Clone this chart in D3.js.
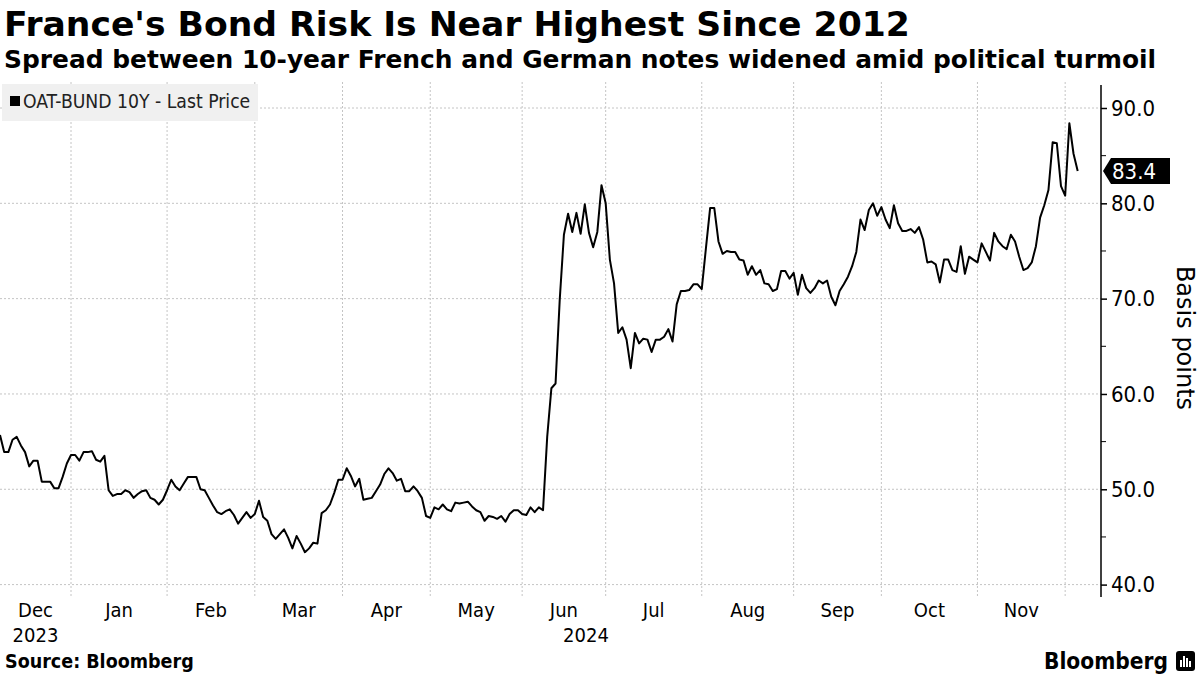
<!DOCTYPE html>
<html><head><meta charset="utf-8">
<script src="https://cdn.jsdelivr.net/npm/d3@7"></script>
<style>
body{margin:0;background:#fff;}
svg{display:block;}
</style></head><body>
<svg id="chart" width="1200" height="675"></svg>
<script>
// ---------------- data ----------------
const titleText = "France's Bond Risk Is Near Highest Since 2012";
const subtitleText = "Spread between 10-year French and German notes widened amid political turmoil";
const legendLabel = "OAT-BUND 10Y - Last Price";
const yAxisTitle = "Basis points";
const sourceText = "Source: Bloomberg";
const logoText = "Bloomberg";

// trading days: weekdays from start to end, minus market holidays
const startDate = "2023-12-07";
const endDate = "2024-12-05";
const holidays = ["2024-04-01", "2024-05-01"];

const dec2023 = [55.7, 53.9, 53.9, 55.2, 55.5, 54.6, 53.9, 52.4, 53.0, 53.0, 50.8, 50.8, 50.8, 50.1, 50.1, 51.3, 52.7];
const jan2024 = [53.6, 53.6, 53.0, 53.9, 53.9, 54.0, 53.1, 52.9, 53.5, 49.9, 49.3, 49.5, 49.5, 49.9, 49.7, 49.1, 49.5, 49.8, 49.9, 49.1, 48.9, 48.4, 48.9];
const feb2024 = [49.9, 51.0, 50.3, 49.9, 50.6, 51.3, 51.3, 51.3, 50.0, 49.9, 49.1, 48.3, 47.6, 47.4, 47.7, 47.9, 47.3, 46.4, 47.0, 47.6, 47.0];
const mar2024 = [47.4, 48.8, 47.1, 46.7, 45.3, 44.8, 45.3, 45.8, 44.9, 43.8, 45.1, 44.3, 43.4, 43.8, 44.4, 44.3, 47.5, 47.8, 48.4, 49.6, 51.0];
const apr2024 = [51.0, 52.2, 51.4, 50.3, 51.1, 48.9, 49.0, 49.1, 49.8, 50.5, 51.6, 52.2, 51.7, 50.9, 51.1, 49.8, 49.8, 50.3, 49.8, 49.1, 47.2];
const may2024 = [47.0, 48.1, 47.9, 48.4, 47.9, 47.7, 48.6, 48.5, 48.6, 48.7, 48.2, 47.8, 47.6, 46.7, 47.2, 47.1, 46.9, 47.2, 46.6, 47.4, 47.8, 47.8];
const jun2024 = [47.4, 47.3, 48.1, 47.6, 48.1, 47.8, 55.5, 60.6, 61.1, 69.9, 76.7, 78.9, 77.0, 79.0, 76.8, 79.9, 76.9, 75.4, 77.0, 81.9];
const jul2024 = [80.0, 74.1, 71.6, 66.4, 67.0, 65.7, 62.7, 66.4, 65.3, 65.8, 65.7, 64.4, 65.7, 65.7, 66.0, 66.8, 65.5, 69.4, 70.8, 70.8, 70.9, 71.5, 71.5];
const aug2024 = [71.0, 75.3, 79.5, 79.5, 76.0, 74.7, 75.0, 74.9, 74.9, 74.1, 74.0, 72.5, 73.4, 72.5, 73.0, 71.6, 71.5, 70.8, 71.0, 72.9, 72.9, 72.1];
const sep2024 = [72.7, 70.4, 72.5, 71.1, 70.6, 71.1, 71.9, 71.6, 71.9, 70.2, 69.3, 70.8, 71.5, 72.3, 73.4, 74.9, 78.3, 77.2, 79.3, 80.0, 78.7];
const oct2024 = [79.6, 78.3, 77.4, 79.8, 77.9, 77.1, 77.1, 77.3, 76.9, 77.5, 76.2, 73.8, 73.9, 73.6, 71.7, 74.1, 74.1, 73.0, 72.8, 75.5, 72.6, 74.4, 74.1];
const nov2024 = [73.8, 75.8, 74.9, 74.0, 76.9, 76.0, 75.5, 75.2, 76.7, 76.0, 74.4, 73.0, 73.2, 73.8, 75.5, 78.5, 79.8, 81.4, 86.4, 86.3, 81.8];
const dec2024 = [80.8, 88.4, 85.2, 83.4];

const yTickValues = [40, 50, 60, 70, 80, 90];
const yMinorTicks = [45, 55, 65, 75, 85];

// ---------------- build ----------------
const values = [].concat(dec2023, jan2024, feb2024, mar2024, apr2024, may2024, jun2024,
  jul2024, aug2024, sep2024, oct2024, nov2024, dec2024);
const parse = d3.timeParse("%Y-%m-%d");
const fmtDay = d3.timeFormat("%Y-%m-%d");
const dates = d3.timeDay.range(parse(startDate), d3.timeDay.offset(parse(endDate), 1))
  .filter(d => d.getDay() !== 0 && d.getDay() !== 6 && !holidays.includes(fmtDay(d)));
const data = values.map((v, i) => ({ date: dates[i], value: v, i }));

const W = 1200, H = 675;
const plot = { left: 0, right: 1101, top: 82, bottom: 597 };
const lastX = 1077.7;

const svg = d3.select("#chart");
const condensed = "'DejaVu Sans Condensed', 'DejaVu Sans', sans-serif";
const sans = "'DejaVu Sans', sans-serif";

const x = d3.scaleLinear().domain([0, data.length - 1]).range([plot.left, lastX]);
const y = d3.scaleLinear().domain([40, 90]).range([584.6, 108]);

// month groups
const monthKey = d3.timeFormat("%Y-%m");
const groups = [];
data.forEach(d => {
  const k = monthKey(d.date);
  if (!groups.length || groups[groups.length - 1].key !== k) groups.push({ key: k, start: d.i, date: d.date });
});

// title & subtitle
svg.append("text").attr("x", 4).attr("y", 36)
  .style("font-family", sans).style("font-weight", "bold").style("font-size", "34.6px")
  .attr("fill", "#000").text(titleText);
svg.append("text").attr("x", 4).attr("y", 68)
  .style("font-family", sans).style("font-weight", "bold").style("font-size", "24.9px")
  .attr("fill", "#000").text(subtitleText);

// gridlines
const grid = svg.append("g");
grid.selectAll("line.h").data(yTickValues).join("line")
  .attr("x1", plot.left).attr("x2", plot.right)
  .attr("y1", d => y(d)).attr("y2", d => y(d))
  .attr("stroke", "#c4c4c4").attr("stroke-width", 1).attr("stroke-dasharray", "2,2");
grid.selectAll("line.v").data(groups.slice(1)).join("line")
  .attr("x1", d => x(d.start)).attr("x2", d => x(d.start))
  .attr("y1", plot.top).attr("y2", plot.bottom)
  .attr("stroke", "#c4c4c4").attr("stroke-width", 1).attr("stroke-dasharray", "2,2");

// legend
const lg = svg.append("g");
lg.append("rect").attr("x", 2).attr("y", 84).attr("width", 256).attr("height", 37).attr("fill", "#f0f0f0");
lg.append("rect").attr("x", 10).attr("y", 96).attr("width", 10).attr("height", 10).attr("fill", "#000");
lg.append("text").attr("x", 23).attr("y", 108)
  .style("font-family", condensed).style("font-size", "19.2px").attr("fill", "#222").text(legendLabel);

// line
svg.append("path").datum(data)
  .attr("fill", "none").attr("stroke", "#000").attr("stroke-width", 2)
  .attr("stroke-linejoin", "round")
  .attr("d", d3.line().x(d => x(d.i)).y(d => y(d.value)));

// y axis
const yAxisG = svg.append("g").attr("transform", `translate(${plot.right},0)`);
yAxisG.append("line").attr("x1", 0).attr("x2", 0).attr("y1", 85).attr("y2", plot.bottom)
  .attr("stroke", "#000").attr("stroke-width", 1.5);
const yAxis = d3.axisRight(y).tickValues(yTickValues).tickFormat(d3.format(".1f")).tickSize(6).tickPadding(4);
yAxisG.call(yAxis);
yAxisG.select(".domain").remove();
yAxisG.selectAll(".tick line").attr("stroke", "#000").attr("stroke-width", 1.5);
yAxisG.selectAll(".tick text").style("font-family", condensed).style("font-size", "22px").attr("fill", "#000");
yAxisG.selectAll("line.minor").data(yMinorTicks).join("line")
  .attr("x1", 0).attr("x2", 5).attr("y1", d => y(d)).attr("y2", d => y(d))
  .attr("stroke", "#000").attr("stroke-width", 1);

// y axis title
svg.append("text")
  .attr("transform", `translate(1177,338) rotate(90)`)
  .attr("text-anchor", "middle")
  .style("font-family", sans).style("font-size", "24px").attr("fill", "#000").text(yAxisTitle);

// last value tag
const last = data[data.length - 1];
const ly = y(last.value);
svg.append("path")
  .attr("d", `M${plot.right + 2},${ly} L${plot.right + 10},${ly - 13} L1170,${ly - 13} L1170,${ly + 13} L${plot.right + 10},${ly + 13} Z`)
  .attr("fill", "#000");
svg.append("text").attr("x", plot.right + 11).attr("y", ly + 8)
  .style("font-family", condensed).style("font-size", "22px").attr("fill", "#fff")
  .text(d3.format(".1f")(last.value));

// month labels
const fmtMon = d3.timeFormat("%b");
const monthLabelData = groups.map((g, k) => {
  const x0 = k === 0 ? plot.left : x(g.start);
  const x1 = k < groups.length - 1 ? x(groups[k + 1].start) : plot.right;
  return { label: fmtMon(g.date), cx: (x0 + x1) / 2, w: x1 - x0 };
}).filter(d => d.w > 60);
svg.selectAll("text.mon").data(monthLabelData).join("text")
  .attr("x", d => d.cx).attr("y", 617).attr("text-anchor", "middle")
  .style("font-family", condensed).style("font-size", "20px").attr("fill", "#000")
  .text(d => d.label);

// year labels
const years = d3.groups(data, d => d.date.getFullYear()).map(([yr, arr], k, all) => {
  const x0 = k === 0 ? plot.left : x(arr[0].i);
  const x1 = k < all.length - 1 ? x(all[k + 1][1][0].i) : plot.right;
  return { label: String(yr), cx: (x0 + x1) / 2 };
});
svg.selectAll("text.yr").data(years).join("text")
  .attr("x", d => d.cx).attr("y", 642).attr("text-anchor", "middle")
  .style("font-family", condensed).style("font-size", "20px").attr("fill", "#000")
  .text(d => d.label);

// source
svg.append("text").attr("x", 5).attr("y", 668)
  .style("font-family", condensed).style("font-weight", "bold").style("font-size", "19.5px")
  .attr("fill", "#000").text(sourceText);

// logo
svg.append("text").attr("x", 1168).attr("y", 669).attr("text-anchor", "end")
  .style("font-family", condensed).style("font-weight", "bold").style("font-size", "22.5px")
  .attr("fill", "#000").text(logoText);
const logo = svg.append("g").attr("transform", "translate(1176,651)");
logo.append("rect").attr("width", 19).attr("height", 20).attr("rx", 3).attr("fill", "#000");
[[4, 9, 2, 7], [7, 5, 2, 11], [10, 7, 2, 9], [13, 10, 2, 6]].forEach(b =>
  logo.append("rect").attr("x", b[0]).attr("y", b[1]).attr("width", b[2]).attr("height", b[3]).attr("fill", "#fff"));
</script>
</body></html>
